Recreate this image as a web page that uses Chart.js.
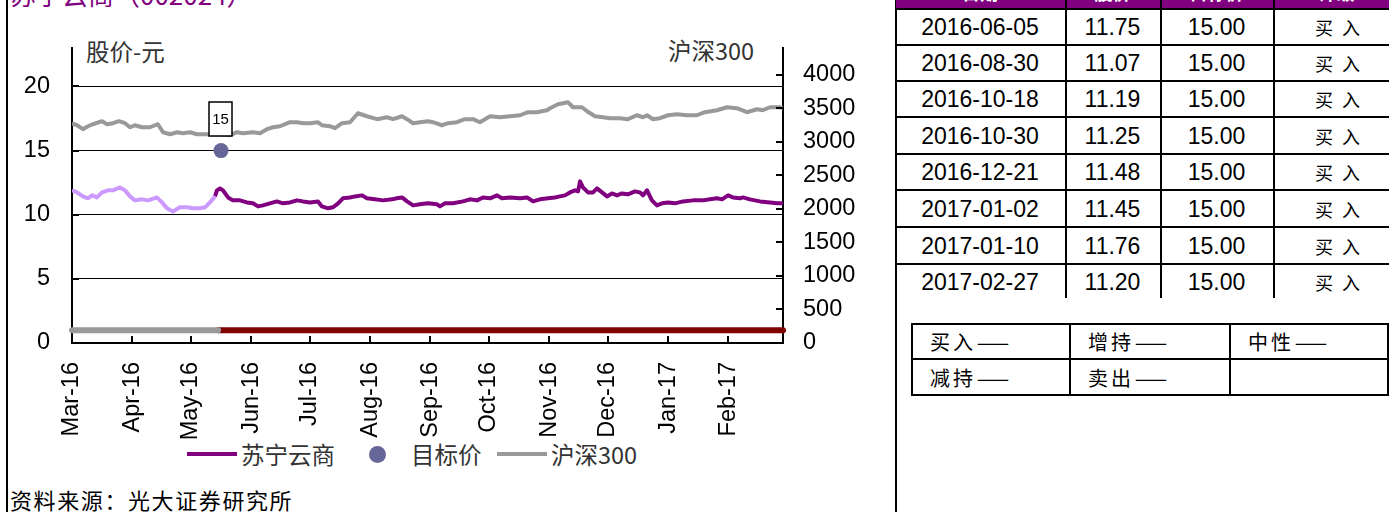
<!DOCTYPE html>
<html><head><meta charset="utf-8">
<script src="https://cdn.jsdelivr.net/npm/chart.js@4/dist/chart.umd.min.js"></script>
<style>
html,body{margin:0;padding:0;width:1389px;height:512px;overflow:hidden;background:#fff;}
.ln{position:absolute;background:#000;}
.t{position:absolute;white-space:nowrap;font-family:'Liberation Sans',Arial,sans-serif;color:#000;}
.cjk{font-family:'Noto Sans CJK SC','Noto Sans',sans-serif;}
.dash{display:inline-block;transform:scaleX(1.9);transform-origin:left center;}
#c{position:absolute;left:0;top:0;}
</style></head><body>
<div id="root"></div>
<canvas id="c" width="895" height="512"></canvas>
<script>
// ---------- data ----------
const titleText = '苏宁云商（002024）';
const leftAxisTitle = '股价-元';
const rightAxisTitle = '沪深300';
const sourceText = '资料来源：光大证券研究所';

// x = days since 2016-03-01
const monthTicks  = [0, 31, 61, 92, 122, 153, 184, 214, 245, 275, 306, 337];
const monthLabels = ['Mar-16','Apr-16','May-16','Jun-16','Jul-16','Aug-16','Sep-16','Oct-16','Nov-16','Dec-16','Jan-17','Feb-17'];
const leftTicks  = [0, 5, 10, 15, 20];
const rightTicks = [0, 500, 1000, 1500, 2000, 2500, 3000, 3500, 4000];

// 沪深300
const hsDays = [0,2.6,5.6,8.2,10.8,15.4,18,21,24.1,27.2,29.8,32.3,35.9,40,44.1,46.7,50.3,53.9,57,60.6,64.2,69.3,74.4,81.1,84.7,87.8,92.9,96.5,100.1,103.2,106.8,111.9,115.5,118.6,122.2,126.3,128.3,132.4,135,138.6,142.7,146.8,151.4,156.6,161.7,164.8,169.4,172,175.1,178.6,182.8,185.3,189.9,193,197.6,201.7,205.9,209.4,214.6,219.7,224.8,230,234.1,238.7,243.8,245.4,249.5,254.6,257.2,261.8,264.4,268.5,272.6,276.2,281.3,285.4,290,293.1,295.2,298.3,301.8,306,310.6,315.7,320.8,324.9,331.1,336.2,341.3,346.5,351.6,354.7,358.3,363.4,365];
const hsValues = [3274,3248,3189,3233,3263,3308,3263,3278,3308,3278,3218,3248,3218,3218,3263,3144,3114,3144,3129,3144,3114,3114,3114,3099,3144,3129,3144,3129,3189,3218,3233,3293,3293,3278,3278,3293,3248,3233,3204,3278,3293,3427,3382,3338,3367,3338,3382,3338,3278,3293,3308,3293,3248,3278,3293,3338,3338,3293,3382,3367,3382,3397,3442,3442,3472,3502,3561,3591,3516,3516,3457,3382,3367,3353,3353,3338,3397,3367,3397,3338,3353,3397,3412,3397,3397,3442,3472,3516,3502,3442,3487,3472,3516,3516,3502];

// 苏宁云商 (early segment, light)
const snDaysPre = [0,2.6,5.6,8.2,10.3,12.8,15.4,18.5,21,24.6,27.2,29.8,32.3,35.9,39,43.6,46.2,48.8,51.8,55.4,59,62.1,65.7,68.3,70.8,73.4];
const snValuesPre = [11.90,11.74,11.43,11.28,11.51,11.35,11.74,11.90,11.90,12.13,11.90,11.43,11.12,11.20,11.12,11.35,10.96,10.50,10.26,10.58,10.58,10.50,10.50,10.58,10.96,11.43];
// 苏宁云商 (later segment)
const snDaysPost = [73.4,74.4,76,77.5,80.1,82.6,86.2,89.8,92.9,95.5,98,101.6,105.2,108.3,111.9,115.5,118.6,122.2,126.3,128.3,131.4,134,136.6,139.1,142.7,145.3,148.9,151.4,155.5,159.7,164.3,166.8,169.4,172,175.1,178.6,182.8,187.4,188.9,191.5,195.6,200.7,204.3,207.9,211,214.6,218.2,220.7,224.8,230,233.6,236.7,240.2,244.4,247.9,250.5,253.1,255.6,258.2,259.8,260.8,262.3,264.9,267.5,269.5,272.1,274.6,277.2,279.8,282.3,285.4,289,291.6,293.1,295.2,297.7,300.3,302.9,306,309.5,313.7,318.8,323.9,327.5,331.1,333.7,336.8,339.3,342.9,344.5,348,353.2,358.3,361.9,365];
const snValuesPost = [11.43,11.90,12.05,11.90,11.35,11.12,11.12,10.96,10.89,10.65,10.73,10.89,11.04,10.89,10.96,11.12,11.04,10.96,11.04,10.65,10.50,10.58,10.89,11.28,11.35,11.43,11.51,11.28,11.20,11.12,11.20,11.28,11.35,11.04,10.73,10.81,10.89,10.81,10.65,10.89,10.89,11.04,11.20,11.12,11.35,11.28,11.51,11.28,11.35,11.28,11.35,11.04,11.20,11.28,11.35,11.43,11.51,11.74,11.90,11.82,12.60,12.13,11.74,11.74,12.05,11.74,11.43,11.66,11.51,11.66,11.59,11.82,11.74,11.51,11.90,11.12,10.73,10.89,10.96,10.89,11.04,11.12,11.12,11.20,11.28,11.20,11.51,11.35,11.28,11.35,11.20,11.04,10.96,10.89,10.89];

// target price
const targetDay = 76.5;
const targetValue = 15;
// rating band
const ratingLevel = 1;
const ratingPreDays = [0, 75];
const ratingPostDays = [75, 365];

// table
const tableHeaders = ['日期','股价','目标价','评级'];
const tableDates   = ['2016-06-05','2016-08-30','2016-10-18','2016-10-30','2016-12-21','2017-01-02','2017-01-10','2017-02-27'];
const tablePrices  = ['11.75','11.07','11.19','11.25','11.48','11.45','11.76','11.20'];
const tableTargets = ['15.00','15.00','15.00','15.00','15.00','15.00','15.00','15.00'];
const tableRatings = ['买入','买入','买入','买入','买入','买入','买入','买入'];
const ratingKey = [['买入','增持','中性'],['减持','卖出','']];

// ---------- static layout ----------
const root = document.getElementById('root');
function el(cls, css, text){const d=document.createElement('div');d.className=cls;d.style.cssText=css;if(text!==undefined)d.textContent=text;root.appendChild(d);return d;}
// frames
el('ln','left:6px;top:0;width:2px;height:512px;');
el('ln','left:895px;top:0;width:2px;height:512px;');
// title (cut off at top)
el('t cjk','left:10px;top:-19px;font-size:26px;line-height:26px;color:#800080;', titleText);
// axis titles
el('t cjk','left:86px;top:36px;font-size:23.5px;line-height:30px;color:#333;', leftAxisTitle);
el('t cjk','left:668px;top:35px;font-size:23.5px;line-height:30px;color:#333;', rightAxisTitle);
// legend
el('ln','left:187px;top:452px;width:50px;height:4px;background:#800080;');
el('t cjk','left:241px;top:439px;font-size:23.5px;line-height:30px;color:#333;', '苏宁云商');
el('ln','left:369px;top:446px;width:17px;height:17px;border-radius:50%;background:#666699;');
el('t cjk','left:411px;top:439px;font-size:23.5px;line-height:30px;color:#333;', '目标价');
el('ln','left:497px;top:452px;width:50px;height:4px;background:#999999;');
el('t cjk','left:551px;top:439px;font-size:23.5px;line-height:30px;color:#333;', '沪深300');
// source
el('t cjk','left:10px;top:484px;font-size:22px;line-height:30px;letter-spacing:1.6px;color:#000;', sourceText);

// right table
el('ln','left:896px;top:0;width:493px;height:9px;background:#800080;');
const colX = [895, 1065, 1160, 1273, 1400];
const rowLines = [8, 44, 80, 116, 153, 189, 226, 263];
tableHeaders.forEach((h,i)=>{
  el('t cjk',`left:${colX[i]}px;width:${colX[i+1]-colX[i]}px;text-align:center;top:-17px;font-size:18px;line-height:18px;color:#fff;font-weight:700;`, h);
});
rowLines.forEach(y=>el('ln',`left:896px;top:${y}px;width:493px;height:2px;`));
colX.slice(1,4).forEach(x=>el('ln',`left:${x}px;top:0;width:2px;height:298px;`));
const rowCenters = rowLines.map((y,i)=> i<rowLines.length-1 ? (y+2+rowLines[i+1])/2 : (y+2+298)/2);
tableDates.forEach((d,i)=>{
  const cy = rowCenters[i];
  el('t',`left:${colX[0]}px;width:${colX[1]-colX[0]}px;text-align:center;top:${cy-15}px;line-height:30px;font-size:23px;`, d);
  el('t',`left:${colX[1]}px;width:${colX[2]-colX[1]}px;text-align:center;top:${cy-15}px;line-height:30px;font-size:23px;`, tablePrices[i]);
  el('t',`left:${colX[2]}px;width:${colX[3]-colX[2]}px;text-align:center;top:${cy-15}px;line-height:30px;font-size:23px;`, tableTargets[i]);
  el('t cjk',`left:1315px;top:${cy-14}px;line-height:28px;font-size:18px;letter-spacing:9px;`, tableRatings[i]);
});
// rating key table
el('ln','left:911px;top:323px;width:478px;height:2px;');
el('ln','left:911px;top:358px;width:478px;height:2px;');
el('ln','left:911px;top:394px;width:478px;height:2px;');
[911,1069,1229,1387].forEach(x=>el('ln',`left:${x}px;top:323px;width:2px;height:73px;`));
const keyX = [930, 1088, 1248];
ratingKey.forEach((row,r)=>row.forEach((txt,c)=>{
  if(!txt) return;
  const d = el('t cjk',`left:${keyX[c]}px;top:${(r?378:342)-14}px;line-height:28px;font-size:20px;letter-spacing:3px;`, txt);
  const s = document.createElement('span'); s.className='dash'; s.textContent='—'; d.appendChild(s);
}));

// ---------- chart ----------
const FONT = "'Liberation Sans', Arial, sans-serif";
const pts = (xs, ys) => xs.map((x,i)=>({x, y: ys[i]}));

const innerTicks = {
  id:'innerTicks',
  afterDraw(chart){
    const c = chart.ctx, a = chart.chartArea;
    const xs = chart.scales.x, ly = chart.scales.y, ry = chart.scales.y1;
    c.save(); c.strokeStyle = '#000'; c.lineWidth = 2; c.beginPath();
    ly.ticks.forEach(t=>{const p=Math.round(ly.getPixelForValue(t.value)); c.moveTo(a.left,p); c.lineTo(a.left+7,p);});
    ry.ticks.forEach(t=>{const p=Math.round(ry.getPixelForValue(t.value)); c.moveTo(a.right-7,p); c.lineTo(a.right,p);});
    xs.ticks.forEach(t=>{const p=Math.round(xs.getPixelForValue(t.value)); c.moveTo(p,a.bottom); c.lineTo(p,a.bottom-7);});
    c.stroke(); c.restore();
  }
};
const targetLabel = {
  id:'targetLabel',
  afterDatasetsDraw(chart){
    const meta = chart.getDatasetMeta(5);
    const p = meta.data[0]; if(!p) return;
    const c = chart.ctx;
    const w = 23, h = 34, bx = Math.round(p.x) - 12, by = Math.round(p.y) - 15 - h;
    c.save();
    c.fillStyle = '#fff'; c.fillRect(bx, by, w, h);
    c.strokeStyle = '#000'; c.lineWidth = 1.5; c.strokeRect(bx, by, w, h);
    c.fillStyle = '#000'; c.font = '15px ' + FONT; c.textAlign = 'center'; c.textBaseline = 'middle';
    c.fillText(String(targetValue), bx + w/2, by + h/2 + 1);
    c.restore();
  }
};

new Chart(document.getElementById('c'), {
  type: 'line',
  data: { datasets: [
    { label: rightAxisTitle, data: pts(hsDays, hsValues), yAxisID: 'y1', borderColor: '#999999', borderWidth: 4, pointRadius: 0, tension: 0, borderJoinStyle:'round' },
    { label: '苏宁云商', data: pts(snDaysPre, snValuesPre), yAxisID: 'y', borderColor: '#CC99FF', borderWidth: 4, pointRadius: 0, tension: 0, borderJoinStyle:'round' },
    { label: '苏宁云商', data: pts(snDaysPost, snValuesPost), yAxisID: 'y', borderColor: '#800080', borderWidth: 4, pointRadius: 0, tension: 0, borderJoinStyle:'round' },
    { label: 'rating', data: ratingPreDays.map(d=>({x:d, y:ratingLevel})), yAxisID: 'y', borderColor: '#999999', borderWidth: 6, pointRadius: 0, borderCapStyle: 'round', clip: false },
    { label: 'rating', data: ratingPostDays.map(d=>({x:d, y:ratingLevel})), yAxisID: 'y', borderColor: '#800000', borderWidth: 6, pointRadius: 0, borderCapStyle: 'round', clip: false },
    { label: '目标价', data: [{x: targetDay, y: targetValue}], yAxisID: 'y', showLine: false, pointRadius: 7.5, pointBackgroundColor: '#666699', pointBorderColor: '#666699', pointBorderWidth: 0, backgroundColor:'#666699', borderColor:'#666699' }
  ]},
  options: {
    responsive: false, animation: false, devicePixelRatio: 1,
    layout: { padding: { top: 48, left: 0, right: 0, bottom: 0 }, autoPadding: false },
    plugins: { legend: { display: false }, tooltip: { enabled: false } },
    scales: {
      x: {
        type: 'linear', min: 0, max: 365,
        afterBuildTicks: s => { s.ticks = monthTicks.map(v => ({ value: v })); },
        afterFit: s => { s.height = 169; },
        ticks: { autoSkip: false, minRotation: 90, maxRotation: 90, padding: 19, color: '#000', font: { family: FONT, size: 23.5 },
          callback: v => { const i = monthTicks.indexOf(v); return i >= 0 ? monthLabels[i] : ''; } },
        grid: { drawOnChartArea: false, drawTicks: false },
        border: { display: true, color: '#000', width: 2 }
      },
      y: {
        position: 'left', min: 0, max: 23,
        afterBuildTicks: s => { s.ticks = leftTicks.map(v => ({ value: v })); },
        afterFit: s => { s.width = 72; },
        ticks: { padding: 22, color: '#000', font: { family: FONT, size: 23.5 }, callback: v => String(v) },
        grid: { drawTicks: false, lineWidth: 1, color: c => (c.tick && c.tick.value === 0) ? 'rgba(0,0,0,0)' : '#000' },
        border: { display: true, color: '#000', width: 2 }
      },
      y1: {
        position: 'right', min: 0, max: 4400,
        afterBuildTicks: s => { s.ticks = rightTicks.map(v => ({ value: v })); },
        afterFit: s => { s.width = 112; },
        ticks: { padding: 20, color: '#000', font: { family: FONT, size: 23.5 }, callback: v => String(v) },
        grid: { drawOnChartArea: false, drawTicks: false },
        border: { display: true, color: '#000', width: 2 }
      }
    }
  },
  plugins: [innerTicks, targetLabel]
});
</script>
</body></html>
